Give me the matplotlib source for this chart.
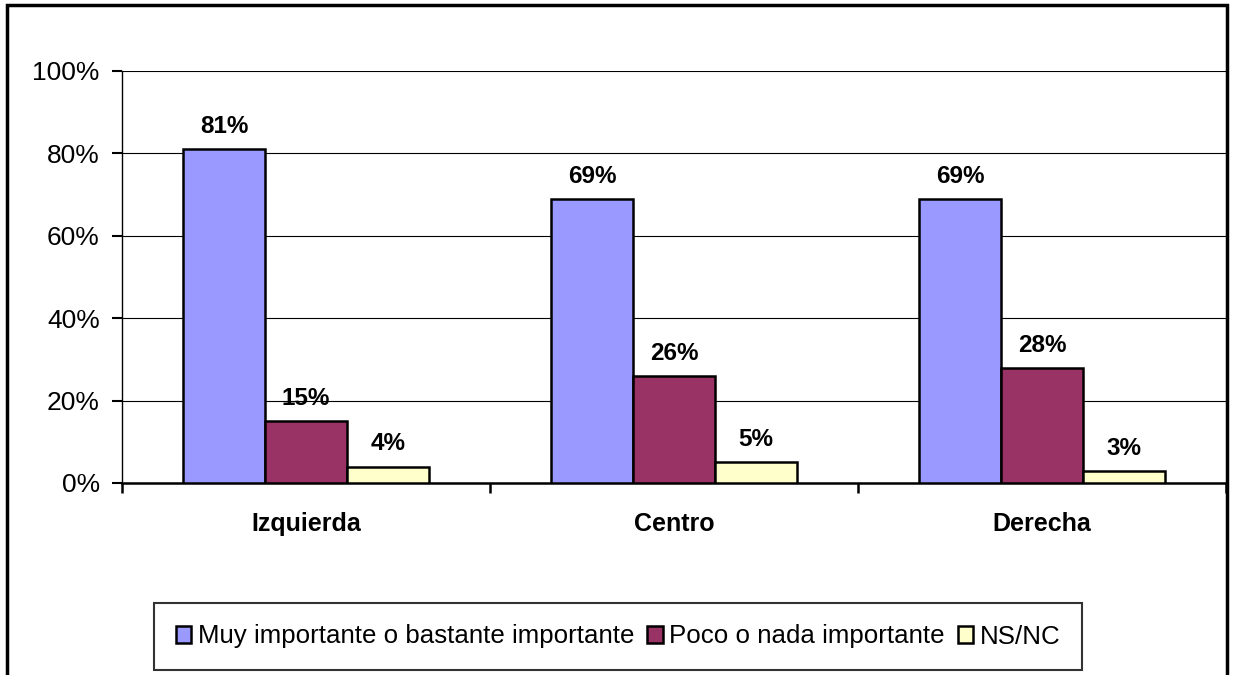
import matplotlib
matplotlib.use("Agg")
from matplotlib import pyplot as plt
from matplotlib.patches import Rectangle
from matplotlib.ticker import PercentFormatter
import numpy as np

categories = ["Izquierda", "Centro", "Derecha"]
series_names = ["Muy importante o bastante importante", "Poco o nada importante", "NS/NC"]
muy_importante = [81, 69, 69]
poco_importante = [15, 26, 28]
ns_nc = [4, 5, 3]
colors = ["#9999FF", "#993366", "#FFFFCC"]

plt.rcParams['font.family'] = ['Liberation Sans', 'DejaVu Sans']

W, H = 1233, 675
fig = plt.figure(figsize=(W / 100, H / 100), dpi=100)
fig.patch.set_facecolor("white")

# marco exterior
fig.patches.append(Rectangle((7 / W, -0.1), (1227 - 7) / W, 1.1 - 5 / H,
                             transform=fig.transFigure, fill=False,
                             edgecolor="black", linewidth=2.5))

ax = fig.add_axes([122 / W, 1 - 483 / H, (1226 - 122) / W, (483 - 71) / H])

x = np.arange(len(categories))
width = 1 / 4.5
all_series = [muy_importante, poco_importante, ns_nc]
for i, (vals, name, col) in enumerate(zip(all_series, series_names, colors)):
    bars = ax.bar(x + (i - 1) * width, vals, width, color=col, edgecolor="black",
                  linewidth=1.8, label=name, zorder=3)
    for b, v in zip(bars, vals):
        ax.annotate(f"{v}%", (b.get_x() + b.get_width() / 2, v),
                    xytext=(0, 8), textcoords="offset points",
                    ha="center", va="bottom", fontsize=17.5, fontweight="bold")

ax.set_xlim(-0.5, 2.5)
ax.set_ylim(0, 100)
ax.yaxis.set_major_formatter(PercentFormatter(decimals=0))
ax.set_yticks(np.arange(0, 101, 20))
ax.yaxis.grid(True, color="black", linewidth=0.8, zorder=0)

ax.set_xticks(x)
ax.set_xticklabels(categories, fontsize=18, fontweight="bold")
ax.set_xticks(np.arange(-0.5, 2.6, 1), minor=True)
ax.tick_params(axis="x", which="major", length=0, pad=21)
ax.tick_params(axis="x", which="minor", length=7, width=1.8, direction="out")
ax.tick_params(axis="y", length=7, width=1.5, labelsize=19, pad=9)

for s in ["top", "right"]:
    ax.spines[s].set_visible(False)
ax.spines["left"].set_linewidth(1.0)
ax.spines["bottom"].set_linewidth(1.8)

leg = fig.legend(loc="center", bbox_to_anchor=(618 / W, 1 - 636.5 / H), ncol=3,
                 fontsize=18.6, frameon=True, fancybox=False, edgecolor="black",
                 handlelength=0.6, handleheight=0.6, handletextpad=0.25,
                 columnspacing=0.5, borderpad=0.85, borderaxespad=0)
leg.get_frame().set_linewidth(1.5)

fig.savefig("out.png", dpi=100, facecolor="white")
